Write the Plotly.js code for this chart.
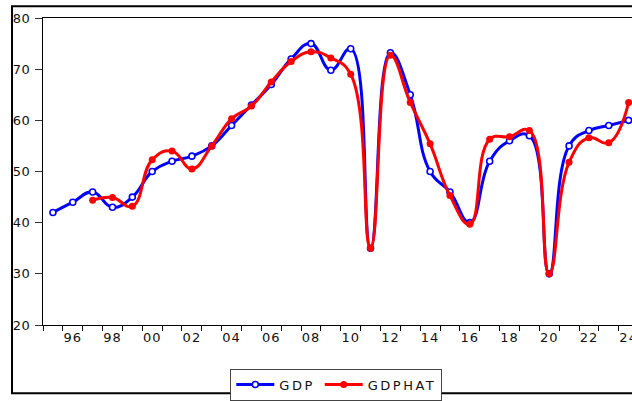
<!DOCTYPE html>
<html>
<head>
<meta charset="utf-8">
<script src="https://cdn.plot.ly/plotly-3.0.1.min.js"></script>
<style>
  html, body { margin: 0; padding: 0; background: #fff; }
  #chart { width: 632px; height: 401px; }
  text.legendtext { letter-spacing: 2.5px; }
  .xtick text { letter-spacing: 1px; }
  .ytick text { letter-spacing: 0.5px; }
</style>
</head>
<body>
<div id="chart"></div>
<script>
// Years 1995..2024
var years = [1995,1996,1997,1998,1999,2000,2001,2002,2003,2004,2005,2006,2007,2008,2009,2010,2011,2012,2013,2014,2015,2016,2017,2018,2019,2020,2021,2022,2023,2024];
var gdp = [42,44,46,43,45,50,52,53,55,59,63,67,72,75,69.8,74,35,73.2,65,50,46,40,52,56,57,30,55,58,59,60];
var gdphat = [null,null,44.4,44.9,43.2,52.3,54.0,50.5,55.0,60.3,62.8,67.5,71.5,73.4,72.2,69.0,35,72.7,63.5,55.4,45.3,39.7,56.3,56.8,58.0,30,51.8,56.6,55.6,63.5];
var tickYears = [1996,1998,2000,2002,2004,2006,2008,2010,2012,2014,2016,2018,2020,2022,2024];
var tickLabels = ['96','98','00','02','04','06','08','10','12','14','16','18','20','22','24'];
var yTicks = [20,30,40,50,60,70,80];

var font = {family: 'DejaVu Sans, Liberation Sans, Arial, sans-serif', size: 13, color: '#111'};

var traces = [
  {
    x: years, y: gdp, name: 'GDP', type: 'scatter', mode: 'lines+markers',
    line: {color: '#0000FF', width: 3, shape: 'spline', smoothing: 1.3},
    marker: {symbol: 'circle', size: 6, color: '#FFFFFF', line: {color: '#0000FF', width: 1.6}}
  },
  {
    x: years, y: gdphat, name: 'GDPHAT', type: 'scatter', mode: 'lines+markers',
    line: {color: '#FF0000', width: 3, shape: 'spline', smoothing: 1.3},
    marker: {symbol: 'circle', size: 7, color: '#FF0000'}
  }
];

var layout = {
  width: 632, height: 401,
  margin: {l: 43, r: 0, t: 18, b: 72, pad: 0},
  paper_bgcolor: '#FFFFFF', plot_bgcolor: '#FFFFFF',
  font: font,
  showlegend: true,
  legend: {
    orientation: 'h', x: 0.318, xanchor: 'left', y: -0.142, yanchor: 'top',
    bgcolor: '#FFFFFF', bordercolor: '#444', borderwidth: 1,
    itemwidth: 38,
    font: font
  },
  xaxis: {
    range: [1994.5, 2024.17], showgrid: false, zeroline: false,
    showline: true, linecolor: '#000', linewidth: 1, mirror: true,
    tickmode: 'array', tickvals: tickYears, ticktext: tickLabels, ticks: '',
    ticklabeloverflow: 'allow',
    minor: {tickmode: 'linear', tick0: 1994.5, dtick: 1, ticks: 'outside', ticklen: 5, tickcolor: '#000', tickwidth: 1, showgrid: false},
    tickfont: font, fixedrange: true
  },
  yaxis: {
    range: [20, 80], showgrid: false, zeroline: false,
    showline: true, linecolor: '#000', linewidth: 1,
    tickmode: 'array', tickvals: yTicks, ticktext: yTicks.map(String),
    ticks: 'outside', ticklen: 7, tickcolor: '#333', ticklabelstandoff: 2,
    ticklabeloverflow: 'allow',
    tickfont: font, fixedrange: true
  },
  shapes: [
    {type: 'rect', xref: 'paper', yref: 'paper', x0: -0.0526, x1: 1.05, y0: -0.222, y1: 1.0386,
     line: {color: '#000', width: 2}, fillcolor: 'rgba(0,0,0,0)', layer: 'above'}
  ]
};

Plotly.newPlot('chart', traces, layout, {staticPlot: true, displayModeBar: false});
</script>
</body>
</html>
